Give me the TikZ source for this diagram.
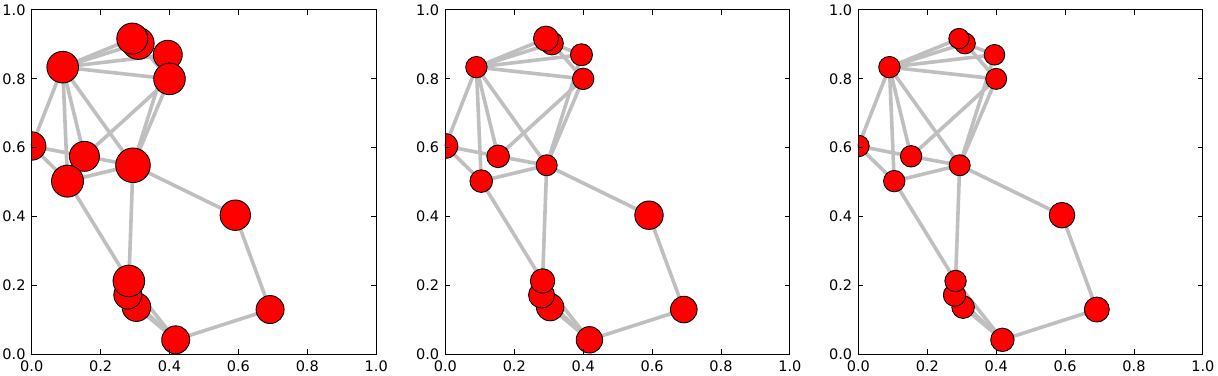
\documentclass[tikz,border=0pt]{standalone}
\usepackage{fontspec}
\setmainfont{DejaVu Sans}
\usetikzlibrary{backgrounds}
\definecolor{edgegray}{HTML}{BFBFBF}

\begin{document}
\begin{tikzpicture}[x=1pt, y=1pt, every node/.style={font=\fontsize{14.5}{16}\selectfont},
	vertex/.style={circle, draw=black, line width=0.9pt, fill=red, inner sep=0pt},
	link/.style={draw=edgegray, line width=3.6pt},
	tickmark/.style={line width=0.8pt}]
		% node positions (same in all three panels), edges
		\def\verts{a/0.000/0.605, b/0.090/0.834, c/0.292/0.917, d/0.309/0.903, e/0.395/0.870, f/0.400/0.800, g/0.153/0.575, h/0.104/0.503, i/0.294/0.549, j/0.591/0.404, k/0.692/0.130, l/0.418/0.042, m/0.282/0.213, n/0.279/0.172, o/0.304/0.137}
		\def\links{a/b, a/g, a/h, b/c, b/d, b/e, b/f, b/g, b/h, b/i, c/d, d/e, d/f, g/f, g/i, h/i, i/e, i/f, i/j, i/m, h/m, j/k, k/l, l/m, l/n, l/o, m/n, n/o}
		\useasboundingbox (0,0) rectangle (1218,375);
		\foreach \k/\xs/\rl in {1/31.7/{a/14.2,b/15.8,e/14.5,f/15.8,d/16,c/15.5,g/15,h/16,i/17.3,j/15.2,k/14,o/14.3,n/14,m/15.8,l/14},
			2/445.4/{a/12.5,b/10.7,e/11,f/10.7,d/11.5,c/12.5,g/11.3,h/11.3,i/10.5,j/14.2,k/13.3,o/13.7,n/13,m/12.2,l/13.2},
			3/858.4/{a/10.8,b/10.7,e/10.3,f/10.5,d/10.5,c/10.2,g/10.7,h/10.7,i/10.5,j/12.8,k/12.5,o/11.3,n/11.2,m/10.7,l/11.7}}
		{
			\begin{scope}[shift={(\xs,20.7)}, x=344.5pt, y=344.3pt]
				\foreach \n/\px/\py in \verts
					\coordinate (P\k\n) at (\px,\py);
				\begin{scope}
					\clip (0,0) rectangle (1,1);
					\foreach \n/\r in \rl
						\node[vertex, minimum size={2*\r pt}] (V\k\n) at (P\k\n) {};
				\end{scope}
				\begin{pgfonlayer}{background}
					\foreach \u/\v in \links
						\draw[link] (V\k\u.center) -- (V\k\v.center);
				\end{pgfonlayer}
				% frame, ticks, labels
				\foreach \t in {0.2,0.4,0.6,0.8}
				{
					\draw[tickmark] (\t,0) -- ++(0,5pt);
					\draw[tickmark] (\t,1) -- ++(0,-5pt);
					\draw[tickmark] (0,\t) -- ++(5pt,0);
					\draw[tickmark] (1,\t) -- ++(-5pt,0);
				}
				\draw[line width=1pt] (0,0) rectangle (1,1);
				\foreach \t [count=\c] in {0.0,0.2,0.4,0.6,0.8,1.0}
				{
					\node[anchor=north, inner sep=0pt, yshift=-6pt] (X\k\c) at (\t,0) {\t};
					\node[anchor=east, inner sep=0pt, xshift=-6pt] (Y\k\c) at (0,\t) {\t};
				}
			\end{scope}
		}
\end{tikzpicture}
\end{document}
